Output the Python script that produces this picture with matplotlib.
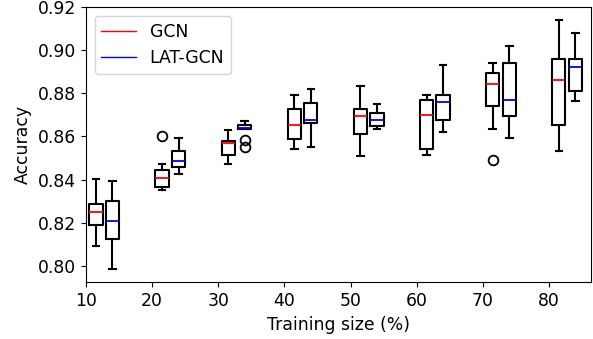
import matplotlib
matplotlib.use("Agg")
import matplotlib.pyplot as plt
from matplotlib.lines import Line2D

# training sizes (%)
sizes = [10, 20, 30, 40, 50, 60, 70, 80]

# box statistics: whislo, q1, med, q3, whishi
gcn_whislo = [0.8091, 0.8353, 0.8472, 0.8541, 0.8510, 0.8512, 0.8633, 0.8531]
gcn_q1 = [0.8189, 0.8367, 0.8512, 0.8589, 0.8610, 0.8542, 0.8741, 0.8651]
gcn_med = [0.8248, 0.8407, 0.8568, 0.8652, 0.8696, 0.8701, 0.8842, 0.8862]
gcn_q3 = [0.8288, 0.8444, 0.8577, 0.8726, 0.8727, 0.8768, 0.8896, 0.8961]
gcn_whishi = [0.8402, 0.8472, 0.8631, 0.8792, 0.8832, 0.8791, 0.8942, 0.9140]
gcn_fliers = [[], [0.8603], [], [], [], [], [0.8490], []]

lat_whislo = [0.7983, 0.8426, 0.8633, 0.8552, 0.8633, 0.8622, 0.8593, 0.8763]
lat_q1 = [0.8124, 0.8459, 0.8633, 0.8661, 0.8648, 0.8675, 0.8696, 0.8812]
lat_med = [0.8207, 0.8487, 0.8640, 0.8676, 0.8676, 0.8761, 0.8768, 0.8921]
lat_q3 = [0.8299, 0.8532, 0.8653, 0.8754, 0.8710, 0.8792, 0.8942, 0.8961]
lat_whishi = [0.8392, 0.8594, 0.8671, 0.8820, 0.8750, 0.8931, 0.9021, 0.9080]
lat_fliers = [[], [], [0.8585, 0.8552], [], [], [], [], []]


def make_stats(whislo, q1, med, q3, whishi, fliers):
    stats = []
    for i in range(len(med)):
        stats.append({'whislo': whislo[i], 'q1': q1[i], 'med': med[i],
                      'q3': q3[i], 'whishi': whishi[i], 'fliers': fliers[i]})
    return stats


plt.rcParams['font.size'] = 12.4

fig = plt.figure(figsize=(5.93, 3.39), dpi=100)
ax = fig.add_axes([0.145, 0.167, 0.852, 0.812])

box_kw = dict(widths=2.0, manage_ticks=False,
              boxprops=dict(color='black', linewidth=1.5),
              whiskerprops=dict(color='black', linewidth=1.5),
              capprops=dict(color='black', linewidth=1.5),
              flierprops=dict(marker='o', markerfacecolor='none',
                              markeredgecolor='black', markersize=7,
                              markeredgewidth=1.3))

gcn_stats = make_stats(gcn_whislo, gcn_q1, gcn_med, gcn_q3, gcn_whishi, gcn_fliers)
lat_stats = make_stats(lat_whislo, lat_q1, lat_med, lat_q3, lat_whishi, lat_fliers)

ax.bxp(gcn_stats, positions=[s + 1.5 for s in sizes],
       medianprops=dict(color='red', linewidth=1.3), **box_kw)
ax.bxp(lat_stats, positions=[s + 4.0 for s in sizes],
       medianprops=dict(color='blue', linewidth=1.3), **box_kw)

ax.set_xlim(10, 86.4)
ax.set_ylim(0.7923, 0.92)
ax.set_xticks(sizes)
ax.set_xticklabels([str(s) for s in sizes])
ax.set_yticks([0.80, 0.82, 0.84, 0.86, 0.88, 0.90, 0.92])
ax.set_xlabel('Training size (%)')
ax.set_ylabel('Accuracy')

handles = [Line2D([], [], color='red', linewidth=1),
           Line2D([], [], color='blue', linewidth=1)]
ax.legend(handles, ['GCN', 'LAT-GCN'], loc='upper left')

fig.savefig('out.png', dpi=100)
